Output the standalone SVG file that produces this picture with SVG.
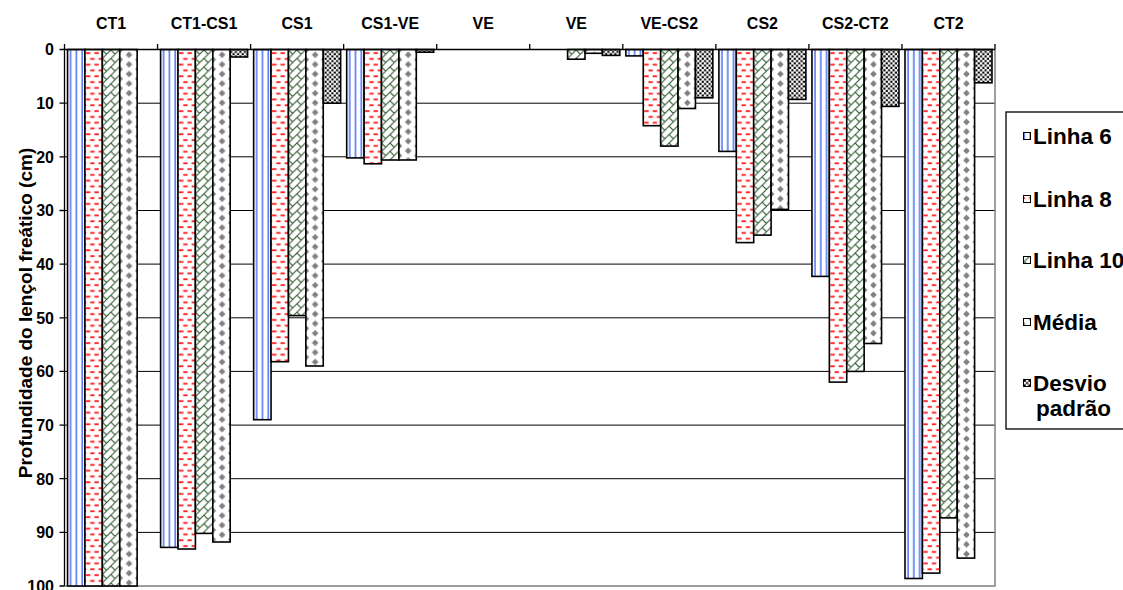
<svg xmlns="http://www.w3.org/2000/svg" width="1123" height="590" viewBox="0 0 1123 590">
<style>
text{font-family:"Liberation Sans",Arial,sans-serif;font-weight:bold;fill:#000}
.cat{font-size:16px;text-anchor:middle}
.ytl{font-size:16px;text-anchor:end}
.leg{font-size:22.5px}
.grid{stroke:#000;stroke-width:1}
.bar{stroke:#000;stroke-width:1.6}
.sw{stroke:#000;stroke-width:1}
.axis{stroke:#000;stroke-width:1.3;fill:none}
</style>
<defs>
<pattern id="pBlue" patternUnits="userSpaceOnUse" x="67.55" y="0" width="5.8156" height="10">
<rect width="5.8156" height="10" fill="#fff"/>
<rect x="2.3" y="0" width="1.5" height="10" fill="#4a6ff5"/>
</pattern>
<pattern id="pRed" patternUnits="userSpaceOnUse" x="84.95" y="50" width="8.459" height="11.6">
<rect width="8.459" height="11.6" fill="#fff"/>
<rect x="1" y="2.2" width="4.4" height="1.8" fill="#ff1a1a"/>
<rect x="5.2" y="8" width="4.4" height="1.8" fill="#ff1a1a"/>
<rect x="-3.26" y="8" width="4.4" height="1.8" fill="#ff1a1a"/>
</pattern>
<pattern id="pGreen" patternUnits="userSpaceOnUse" x="102.35" y="50" width="8.459" height="8.459">
<rect width="8.459" height="8.459" fill="#fff"/>
<path d="M0,8.459 L8.459,0 M0,0 L4.23,4.23 M-1,1 L1,-1 M7.459,9.459 L9.459,7.459" stroke="#2b572b" stroke-width="1.1" fill="none"/>
</pattern>
<pattern id="pGray" patternUnits="userSpaceOnUse" x="119.75" y="50" width="18.61" height="9.6">
<rect width="18.61" height="9.6" fill="#fff"/>
<path d="M9.3,1.4 L12.6,4.8 L9.3,8.2 L6,4.8 Z M0,-3.4 L3.3,0 L0,3.4 L-3.3,0 Z M18.61,-3.4 L21.91,0 L18.61,3.4 L15.31,0 Z M0,6.2 L3.3,9.6 L0,13 L-3.3,9.6 Z M18.61,6.2 L21.91,9.6 L18.61,13 L15.31,9.6 Z" fill="#808080"/>
</pattern>
<pattern id="pDots" patternUnits="userSpaceOnUse" x="0" y="0" width="4.6" height="4.6">
<rect width="4.6" height="4.6" fill="#fff"/>
<rect x="0.2" y="0.2" width="2.1" height="2.1" fill="#000"/>
<rect x="2.5" y="2.5" width="2.1" height="2.1" fill="#000"/>
</pattern>
</defs>
<rect width="1123" height="590" fill="#fff"/>

<g id="plot-area">
<g id="gridlines">
<line class="grid" x1="64.5" y1="103.2" x2="995" y2="103.2"/>
<line class="grid" x1="64.5" y1="156.8" x2="995" y2="156.8"/>
<line class="grid" x1="64.5" y1="210.5" x2="995" y2="210.5"/>
<line class="grid" x1="64.5" y1="264.1" x2="995" y2="264.1"/>
<line class="grid" x1="64.5" y1="317.8" x2="995" y2="317.8"/>
<line class="grid" x1="64.5" y1="371.4" x2="995" y2="371.4"/>
<line class="grid" x1="64.5" y1="425.1" x2="995" y2="425.1"/>
<line class="grid" x1="64.5" y1="478.7" x2="995" y2="478.7"/>
<line class="grid" x1="64.5" y1="532.4" x2="995" y2="532.4"/>
</g>
<path d="M64.5,586 L995,586 L995,49.5" stroke="#808080" stroke-width="1.5" fill="none"/>
</g>

<g id="series-linha6">
<rect class="bar" fill="url(#pBlue)" x="67.55" y="49.5" width="17.4" height="536.5"/>
<rect class="bar" fill="url(#pBlue)" x="160.6" y="49.5" width="17.4" height="497.9"/>
<rect class="bar" fill="url(#pBlue)" x="253.65" y="49.5" width="17.4" height="370.2"/>
<rect class="bar" fill="url(#pBlue)" x="346.7" y="49.5" width="17.4" height="108.4"/>
<rect class="bar" fill="url(#pBlue)" x="625.85" y="49.5" width="17.4" height="6.4"/>
<rect class="bar" fill="url(#pBlue)" x="718.9" y="49.5" width="17.4" height="101.9"/>
<rect class="bar" fill="url(#pBlue)" x="811.95" y="49.5" width="17.4" height="226.9"/>
<rect class="bar" fill="url(#pBlue)" x="905" y="49.5" width="17.4" height="529"/>
</g>
<g id="series-linha8">
<rect class="bar" fill="url(#pRed)" x="84.95" y="49.5" width="17.4" height="536.5"/>
<rect class="bar" fill="url(#pRed)" x="178" y="49.5" width="17.4" height="499.5"/>
<rect class="bar" fill="url(#pRed)" x="271.05" y="49.5" width="17.4" height="312.2"/>
<rect class="bar" fill="url(#pRed)" x="364.1" y="49.5" width="17.4" height="114.3"/>
<rect class="bar" fill="url(#pRed)" x="643.25" y="49.5" width="17.4" height="76.2"/>
<rect class="bar" fill="url(#pRed)" x="736.3" y="49.5" width="17.4" height="193.1"/>
<rect class="bar" fill="url(#pRed)" x="829.35" y="49.5" width="17.4" height="332.6"/>
<rect class="bar" fill="url(#pRed)" x="922.4" y="49.5" width="17.4" height="523.6"/>
</g>
<g id="series-linha10">
<rect class="bar" fill="url(#pGreen)" x="102.35" y="49.5" width="17.4" height="536.5"/>
<rect class="bar" fill="url(#pGreen)" x="195.4" y="49.5" width="17.4" height="483.9"/>
<rect class="bar" fill="url(#pGreen)" x="288.45" y="49.5" width="17.4" height="266.1"/>
<rect class="bar" fill="url(#pGreen)" x="381.5" y="49.5" width="17.4" height="110.5"/>
<rect class="bar" fill="url(#pGreen)" x="567.6" y="49.5" width="17.4" height="9.7"/>
<rect class="bar" fill="url(#pGreen)" x="660.65" y="49.5" width="17.4" height="96.6"/>
<rect class="bar" fill="url(#pGreen)" x="753.7" y="49.5" width="17.4" height="185.6"/>
<rect class="bar" fill="url(#pGreen)" x="846.75" y="49.5" width="17.4" height="321.9"/>
<rect class="bar" fill="url(#pGreen)" x="939.8" y="49.5" width="17.4" height="468.4"/>
</g>
<g id="series-media">
<rect class="bar" fill="url(#pGray)" x="119.75" y="49.5" width="17.4" height="536.5"/>
<rect class="bar" fill="url(#pGray)" x="212.8" y="49.5" width="17.4" height="492.5"/>
<rect class="bar" fill="url(#pGray)" x="305.85" y="49.5" width="17.4" height="316.5"/>
<rect class="bar" fill="url(#pGray)" x="398.9" y="49.5" width="17.4" height="110.5"/>
<rect class="bar" fill="url(#pGray)" x="585" y="49.5" width="17.4" height="3.8"/>
<rect class="bar" fill="url(#pGray)" x="678.05" y="49.5" width="17.4" height="59"/>
<rect class="bar" fill="url(#pGray)" x="771.1" y="49.5" width="17.4" height="159.9"/>
<rect class="bar" fill="url(#pGray)" x="864.15" y="49.5" width="17.4" height="294"/>
<rect class="bar" fill="url(#pGray)" x="957.2" y="49.5" width="17.4" height="508.6"/>
</g>
<g id="series-desvio">
<rect class="bar" fill="url(#pDots)" x="230.2" y="49.5" width="17.4" height="7.5"/>
<rect class="bar" fill="url(#pDots)" x="323.25" y="49.5" width="17.4" height="53.7"/>
<rect class="bar" fill="url(#pDots)" x="416.3" y="49.5" width="17.4" height="2.7"/>
<rect class="bar" fill="url(#pDots)" x="602.4" y="49.5" width="17.4" height="5.9"/>
<rect class="bar" fill="url(#pDots)" x="695.45" y="49.5" width="17.4" height="48.3"/>
<rect class="bar" fill="url(#pDots)" x="788.5" y="49.5" width="17.4" height="49.9"/>
<rect class="bar" fill="url(#pDots)" x="881.55" y="49.5" width="17.4" height="56.9"/>
<rect class="bar" fill="url(#pDots)" x="974.6" y="49.5" width="17.4" height="33.3"/>
</g>

<g id="axes">
<path class="axis" d="M64.5,586 L64.5,49.5 L995,49.5"/>
<path class="axis" d="M64.5,44 V49.5 M157.55,44 V49.5 M250.6,44 V49.5 M343.65,44 V49.5 M436.7,44 V49.5 M529.75,44 V49.5 M622.8,44 V49.5 M715.85,44 V49.5 M808.9,44 V49.5 M901.95,44 V49.5 M995,44 V49.5"/>
<path class="axis" d="M59.5,49.5 H64.5 M59.5,103.2 H64.5 M59.5,156.8 H64.5 M59.5,210.5 H64.5 M59.5,264.1 H64.5 M59.5,317.8 H64.5 M59.5,371.4 H64.5 M59.5,425.1 H64.5 M59.5,478.7 H64.5 M59.5,532.4 H64.5 M59.5,586 H64.5"/>
</g>

<g id="category-labels">
<text class="cat" x="111" y="28.5">CT1</text>
<text class="cat" x="204" y="28.5">CT1-CS1</text>
<text class="cat" x="297.1" y="28.5">CS1</text>
<text class="cat" x="390.2" y="28.5">CS1-VE</text>
<text class="cat" x="483.2" y="28.5">VE</text>
<text class="cat" x="576.3" y="28.5">VE</text>
<text class="cat" x="669.3" y="28.5">VE-CS2</text>
<text class="cat" x="762.4" y="28.5">CS2</text>
<text class="cat" x="855.4" y="28.5">CS2-CT2</text>
<text class="cat" x="948.5" y="28.5">CT2</text>
</g>

<g id="value-labels">
<text class="ytl" x="54" y="55.3">0</text>
<text class="ytl" x="54" y="109">10</text>
<text class="ytl" x="54" y="162.6">20</text>
<text class="ytl" x="54" y="216.3">30</text>
<text class="ytl" x="54" y="269.9">40</text>
<text class="ytl" x="54" y="323.6">50</text>
<text class="ytl" x="54" y="377.2">60</text>
<text class="ytl" x="54" y="430.9">70</text>
<text class="ytl" x="54" y="484.5">80</text>
<text class="ytl" x="54" y="538.2">90</text>
<text class="ytl" x="54" y="591.8">100</text>
</g>

<g id="axis-title">
<text transform="translate(32,313) rotate(-90)" text-anchor="middle" font-size="19">Profundidade do lençol freático (cm)</text>
</g>

<g id="legend">
<rect x="1006" y="112" width="130" height="317" fill="#fff" stroke="#000" stroke-width="1.3"/>
<rect class="sw" fill="url(#pBlue)" x="1023.5" y="132.5" width="7" height="7"/>
<text class="leg" x="1033" y="144">Linha 6</text>
<rect class="sw" fill="url(#pRed)" x="1023.5" y="195.5" width="7" height="7"/>
<text class="leg" x="1033" y="207">Linha 8</text>
<rect class="sw" fill="url(#pGreen)" x="1023.5" y="256.5" width="7" height="7"/>
<text class="leg" x="1033" y="268">Linha 10</text>
<rect class="sw" fill="url(#pGray)" x="1023.5" y="318.5" width="7" height="7"/>
<text class="leg" x="1033" y="330">Média</text>
<rect class="sw" fill="url(#pDots)" x="1023.5" y="379.5" width="7" height="7"/>
<text class="leg" x="1033" y="391">Desvio</text>
<text class="leg" x="1036" y="416">padrão</text>
</g>
</svg>
